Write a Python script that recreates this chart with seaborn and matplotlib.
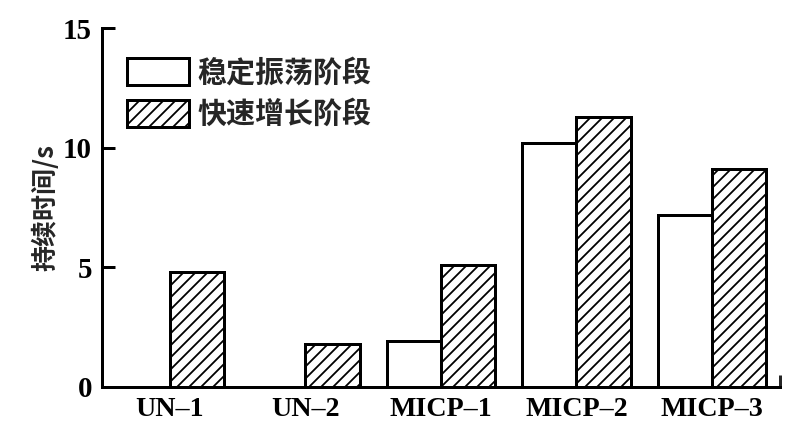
import pandas as pd
import matplotlib.pyplot as plt
import seaborn as sns
from matplotlib.patches import Patch
from matplotlib.ticker import FixedLocator

samples = ["UN–1", "UN–2", "MICP–1", "MICP–2", "MICP–3"]
stages = ["稳定振荡阶段", "快速增长阶段"]
stable = [0.0, 0.0, 1.9, 10.2, 7.2]
rapid = [4.8, 1.8, 5.1, 11.3, 9.1]
yticks = [0, 5, 10, 15]

df = pd.DataFrame({
    "sample": samples * 2,
    "stage": [stages[0]] * len(samples) + [stages[1]] * len(samples),
    "duration": stable + rapid,
})

sns.set_style("ticks")
plt.rcParams["font.family"] = ["Noto Sans CJK SC", "DejaVu Sans"]
plt.rcParams["hatch.linewidth"] = 0.9
plt.rcParams["hatch.color"] = "black"

dpi = 144
fig = plt.figure(figsize=(803 / dpi, 446 / dpi), dpi=dpi)
ax = fig.add_axes([0.127, 0.133, 0.844, 0.8035])

sns.barplot(data=df, x="sample", y="duration", hue="stage", order=samples,
            hue_order=stages, color="white", edgecolor="black",
            linewidth=1.5, saturation=1, width=0.8, gap=0, ax=ax, legend=False)

hatches = ["", "////"]
for cont, h in zip(ax.containers, hatches):
    for bar in cont:
        bar.set_facecolor("white")
        bar.set_edgecolor("black")
        bar.set_hatch(h)
        bar.set_linewidth(1.5)

ax.set_xlim(-0.5, 4.5)
ax.set_ylim(0, 15)
ax.set_yticks(yticks)
ax.set_xlabel("")
ax.set_ylabel("持续时间/s", fontsize=13, fontweight="bold", labelpad=2)

for side in ["top", "right"]:
    ax.spines[side].set_visible(False)
for side in ["left", "bottom"]:
    ax.spines[side].set_linewidth(1.5)
    ax.spines[side].set_color("black")

ax.tick_params(axis="y", direction="in", length=6.5, width=1.5, pad=5,
               colors="black")
ax.tick_params(axis="x", length=0, pad=5, colors="black")
ax.xaxis.set_minor_locator(FixedLocator([4.5]))
ax.tick_params(axis="x", which="minor", direction="in", length=6, width=1.5)
for lab in ax.get_xticklabels():
    lab.set_fontfamily("Liberation Serif")
    lab.set_fontweight("bold")
    lab.set_fontsize(14)
for lab in ax.get_yticklabels():
    lab.set_fontfamily("Liberation Serif")
    lab.set_fontweight("bold")
    lab.set_fontsize(14.5)

handles = [Patch(facecolor="white", edgecolor="black", linewidth=1.5, hatch=h)
           for h in hatches]
ax.legend(handles, stages, loc="upper left", bbox_to_anchor=(0.037, 0.919),
          frameon=False, prop={"size": 14.5, "weight": "bold"},
          handlelength=2.14, handleheight=1.05,
          handletextpad=0.3, labelspacing=0.4, borderpad=0, borderaxespad=0)

fig.savefig("out.png", dpi=dpi)
